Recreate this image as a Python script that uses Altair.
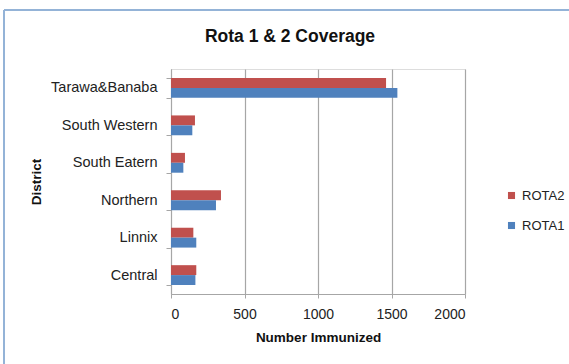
import altair as alt
import pandas as pd

districts = ["Tarawa&Banaba", "South Western", "South Eatern", "Northern", "Linnix", "Central"]
rota2 = [1463, 163, 95, 340, 152, 172]
rota1 = [1540, 145, 84, 306, 172, 166]
series_names = ["ROTA2", "ROTA1"]
x_ticks = [0, 500, 1000, 1500, 2000]

rows = []
for d, v2, v1 in zip(districts, rota2, rota1):
    rows.append({"District": d, "Series": "ROTA2", "Value": v2})
    rows.append({"District": d, "Series": "ROTA1", "Value": v1})
df = pd.DataFrame(rows)

FONT = "Liberation Sans"

bars = alt.Chart(df).mark_bar().encode(
    x=alt.X("Value:Q",
            scale=alt.Scale(domain=[0, 2000], nice=False),
            axis=alt.Axis(values=x_ticks, format="d", title="Number Immunized", grid=True,
                          gridColor="#A6A6A6", gridWidth=1.2,
                          domainColor="#A6A6A6", tickColor="#A6A6A6", tickSize=4,
                          labelPadding=9, titlePadding=9,
                          labelFont=FONT, labelFontSize=14, labelColor="#222222",
                          titleFont=FONT, titleFontSize=13.5, titleFontWeight="bold",
                          titleColor="#111111")),
    y=alt.Y("District:N", sort=districts,
            scale=alt.Scale(paddingInner=0.47, paddingOuter=0.24),
            axis=alt.Axis(title="District", bandPosition=0, tickBand="extent",
                          domainColor="#A6A6A6", tickColor="#A6A6A6", tickSize=5,
                          labelPadding=9, titlePadding=7,
                          labelFont=FONT, labelFontSize=14.5, labelColor="#222222",
                          titleFont=FONT, titleFontSize=13.5, titleFontWeight="bold",
                          titleColor="#111111")),
    yOffset=alt.YOffset("Series:N", sort=series_names),
    color=alt.Color("Series:N",
                    scale=alt.Scale(domain=series_names, range=["#C0504D", "#4F81BD"]),
                    legend=alt.Legend(title=None, orient="none", legendX=334, legendY=120,
                                      symbolType="square", symbolSize=50,
                                      symbolStrokeWidth=0, rowPadding=16,
                                      labelFont=FONT, labelFontSize=13,
                                      labelColor="#222222", labelOffset=4)),
)

border_top = alt.Chart(df).mark_rule(color="#95B3D7", strokeWidth=1.5, clip=False).encode(
    x=alt.value(-167), x2=alt.value(400), y=alt.value(-59))
border_left = alt.Chart(df).mark_rule(color="#95B3D7", strokeWidth=1.5, clip=False).encode(
    x=alt.value(-167), y=alt.value(-59), y2=alt.value(300))

chart = alt.layer(border_top, border_left, bars).properties(
    width=294, height=225,
    autosize=alt.AutoSizeParams(type="none"),
    padding={"left": 171, "top": 69, "right": 104, "bottom": 70},
    title=alt.TitleParams("Rota 1 & 2 Coverage", font=FONT, fontSize=17.5,
                          fontWeight="bold", color="#111111", anchor="middle",
                          dx=-28, offset=-36),
).configure_view(stroke=None).configure(background="white")

chart.save("out.html", embed_options={"renderer": "svg", "actions": False})
